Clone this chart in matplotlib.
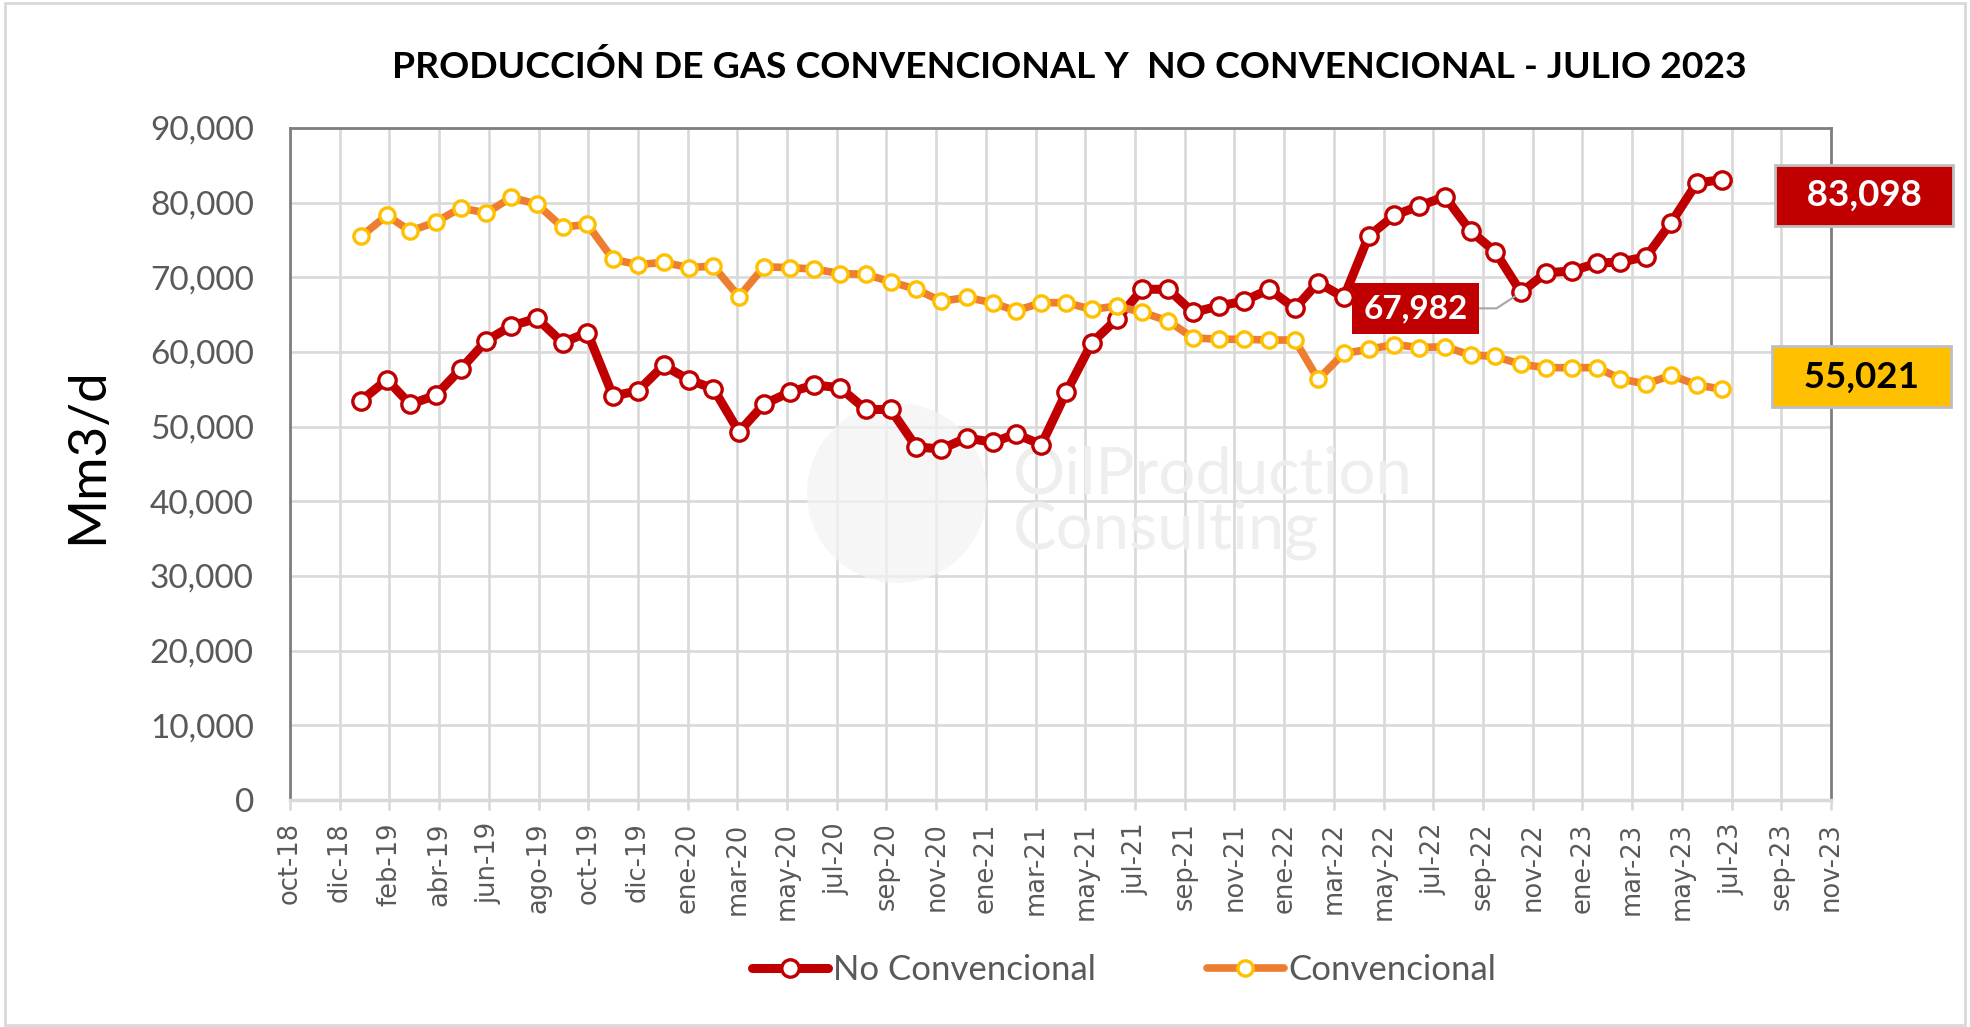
import matplotlib
matplotlib.use("Agg")
import matplotlib.pyplot as plt
from matplotlib.patches import Circle, Rectangle
from matplotlib.ticker import FuncFormatter
import pandas as pd

plt.rcParams['font.family'] = ['Lato', 'DejaVu Sans']

# monthly data, jan-19 .. jul-23
months = pd.date_range('2019-01-01', periods=55, freq='MS')

no_conv = [53500, 56300, 53000, 54200, 57700, 61500, 63500, 64500, 61250, 62600,
           54100, 54800, 58200, 56250, 55100, 49300, 53000, 54600, 55600, 55200,
           52300, 52300, 47300, 47000, 48500, 47900, 49000, 47600, 54600, 61250,
           64400, 68400, 68400, 65300, 66150, 66800, 68400, 65850, 69300, 67300,
           75500, 78300, 79550, 80800, 76200, 73400, 67982, 70600, 70850, 71900,
           72050, 72750, 77300, 82600, 83098]

conv = [75500, 78300, 76200, 77400, 79300, 78600, 80700, 79800, 76700, 77100,
        72400, 71700, 72000, 71300, 71500, 67400, 71400, 71300, 71100, 70500,
        70400, 69400, 68400, 66800, 67300, 66600, 65500, 66600, 66600, 65700,
        66150, 65300, 64150, 61900, 61700, 61700, 61600, 61600, 56350, 59800,
        60350, 61000, 60600, 60700, 59600, 59400, 58350, 57900, 57900, 57900,
        56400, 55700, 56900, 55600, 55021]

# excel date axis: major unit 60 days starting 7-oct-2018
xtick_labels = ['oct-18', 'dic-18', 'feb-19', 'abr-19', 'jun-19', 'ago-19', 'oct-19',
                'dic-19', 'ene-20', 'mar-20', 'may-20', 'jul-20', 'sep-20', 'nov-20',
                'ene-21', 'mar-21', 'may-21', 'jul-21', 'sep-21', 'nov-21', 'ene-22',
                'mar-22', 'may-22', 'jul-22', 'sep-22', 'nov-22', 'ene-23', 'mar-23',
                'may-23', 'jul-23', 'sep-23', 'nov-23']
xticks = pd.date_range('2018-10-07', periods=len(xtick_labels), freq='60D')

title = 'PRODUCCIÓN DE GAS CONVENCIONAL Y  NO CONVENCIONAL - JULIO 2023'
red = '#C00000'
orange = '#ED7D31'
gold = '#FFC000'
grey_txt = '#595959'

fig = plt.figure(figsize=(19.7, 10.27), dpi=100)
ax = fig.add_axes([0.1472, 0.221, 0.7822, 0.6544])

# faint watermark
ax.add_patch(Circle((8.97, 5.34), 0.9, transform=fig.dpi_scale_trans,
                    fc='#F3F3F3', ec='none', alpha=0.7, zorder=1))
ax.text(10.13, 5.34, 'OilProduction', transform=fig.dpi_scale_trans,
        fontsize=47, color='#EEEEEE', zorder=1)
ax.text(10.13, 4.79, 'Consulting', transform=fig.dpi_scale_trans,
        fontsize=47, color='#EEEEEE', zorder=1)

ax.plot(months, no_conv, color=red, lw=6.5, marker='o', ms=12.5, mfc='white',
        mec=red, mew=2.4, solid_joinstyle='round', solid_capstyle='round',
        label='No Convencional', zorder=3)
ax.plot(months, conv, color=orange, lw=5.5, marker='o', ms=11, mfc='white',
        mec=gold, mew=2.4, solid_joinstyle='round', solid_capstyle='round',
        label='Convencional', zorder=4)

ax.set_xlim(xticks[0], xticks[-1])
ax.set_ylim(0, 90000)
ax.set_yticks(range(0, 90001, 10000))
ax.yaxis.set_major_formatter(FuncFormatter(lambda v, p: f'{v:,.0f}'))
ax.set_xticks(xticks)
ax.set_xticklabels(xtick_labels, rotation=90, family='DejaVu Sans',
                   fontsize=18.5, color=grey_txt)
for t in ax.get_yticklabels():
    t.set_fontsize(24)
    t.set_color(grey_txt)

ax.grid(True, color='#D9D9D9', lw=1.9)
ax.set_axisbelow(True)
ax.tick_params(axis='x', length=7, width=1.9, color='#D9D9D9', pad=9)
ax.tick_params(axis='y', length=0, pad=26)
for s in ['left', 'top', 'right']:
    ax.spines[s].set_color('#7F7F7F')
    ax.spines[s].set_linewidth(2)
ax.spines['bottom'].set_color('#D9D9D9')
ax.spines['bottom'].set_linewidth(2.5)

# data labels
ax.annotate(f'{no_conv[46]:,}', xy=(months[46], no_conv[46]), xytext=(-76, -11.5),
            textcoords='offset points', ha='center', va='center', color='white',
            fontsize=24, fontweight='bold',
            bbox=dict(boxstyle='square,pad=0.33', fc=red, ec='none'),
            arrowprops=dict(arrowstyle='-', color='#A6A6A6', lw=1.5, shrinkA=0,
                            shrinkB=5, relpos=(1, 0.5),
                            connectionstyle='angle,angleA=0,angleB=33,rad=0'),
            zorder=6)
ax.text(1.0214, 0.900, f'  {no_conv[-1]:,}  ', transform=ax.transAxes, ha='center',
        va='center', color='white', fontsize=26.5, fontweight='bold', clip_on=False,
        bbox=dict(boxstyle='square,pad=0.38', fc=red, ec='#BFBFBF', lw=2), zorder=6)
ax.text(1.020, 0.6295, f'  {conv[-1]:,}  ', transform=ax.transAxes, ha='center',
        va='center', color='black', fontsize=26.5, fontweight='bold', clip_on=False,
        bbox=dict(boxstyle='square,pad=0.38', fc=gold, ec='#BFBFBF', lw=2), zorder=6)

fig.text(0.543, 0.935, title, ha='center', va='center', fontsize=26.9, fontweight='bold')
fig.text(88 / 1970, 1 - 456 / 1027, 'Mm3/d', rotation=90, ha='center', va='center',
         fontsize=38)

fig.legend(loc='center', bbox_to_anchor=(0.5706, 0.0555), ncol=2, frameon=False,
           fontsize=25, labelcolor=grey_txt, handlelength=2.2, handletextpad=0.15,
           columnspacing=3.2, numpoints=1)

fig.patches.append(Rectangle((0.0025, 0.002), 0.995, 0.9948, transform=fig.transFigure,
                             fill=False, ec='#D9D9D9', lw=2))

fig.savefig('out.png', dpi=100)
